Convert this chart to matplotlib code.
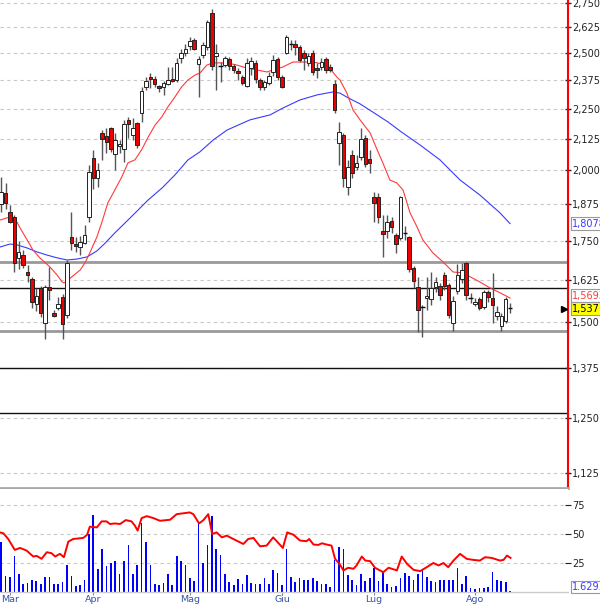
import matplotlib
matplotlib.use("Agg")
import matplotlib.pyplot as plt
import matplotlib.transforms as mtransforms
from matplotlib.patches import Rectangle
from matplotlib.ticker import FixedLocator, FuncFormatter, NullLocator

# ---------------- data ----------------
opens = [1.877, 1.916, 1.848, 1.831, 1.694, 1.704, 1.649, 1.627, 1.552, 1.600,
         1.497, 1.603, 1.525, 1.540, 1.573, 1.520, 1.762, 1.739, 1.729, 1.742,
         1.831, 2.048, 1.972, 2.148, 2.136, 2.168, 2.064, 2.096, 2.084, 2.202,
         2.140, 2.189, 2.231, 2.345, 2.390, 2.381, 2.349, 2.345, 2.358, 2.381,
         2.376, 2.477, 2.501, 2.534, 2.563, 2.449, 2.491, 2.529, 2.699, 2.487,
         2.440, 2.444, 2.473, 2.440, 2.416, 2.389, 2.349, 2.430, 2.454, 2.376,
         2.345, 2.363, 2.412, 2.473, 2.389, 2.501, 2.544, 2.544, 2.529, 2.501,
         2.454, 2.501, 2.430, 2.435, 2.473, 2.435, 2.358, 2.108, 2.140, 1.938,
         2.060, 2.013, 2.052, 2.128, 2.044, 1.902, 1.902, 1.783, 1.783, 1.817,
         1.769, 1.759, 1.776, 1.762, 1.661, 1.603, 1.540, 1.570, 1.567, 1.603,
         1.606, 1.640, 1.609, 1.497, 1.591, 1.627, 1.677, 1.570, 1.552, 1.567,
         1.543, 1.588, 1.570, 1.517, 1.489, 1.502, 1.540]
closes = [1.920, 1.880, 1.813, 1.677, 1.713, 1.671, 1.640, 1.558, 1.576, 1.525,
          1.603, 1.594, 1.517, 1.552, 1.494, 1.677, 1.742, 1.732, 1.745, 1.769,
          1.994, 1.972, 2.002, 2.124, 2.112, 2.084, 2.120, 2.104, 2.185, 2.185,
          2.168, 2.100, 2.327, 2.372, 2.381, 2.358, 2.340, 2.363, 2.376, 2.372,
          2.454, 2.501, 2.520, 2.558, 2.520, 2.473, 2.539, 2.652, 2.440, 2.501,
          2.435, 2.477, 2.440, 2.421, 2.407, 2.362, 2.454, 2.463, 2.381, 2.345,
          2.367, 2.394, 2.468, 2.389, 2.345, 2.578, 2.539, 2.529, 2.468, 2.477,
          2.487, 2.412, 2.421, 2.459, 2.421, 2.421, 2.244, 2.152, 1.972, 2.013,
          1.991, 2.029, 2.124, 2.025, 2.029, 1.880, 1.831, 1.773, 1.813, 1.796,
          1.739, 1.902, 1.773, 1.658, 1.621, 1.534, 1.543, 1.576, 1.600, 1.618,
          1.579, 1.606, 1.520, 1.561, 1.640, 1.655, 1.579, 1.571, 1.558, 1.540,
          1.588, 1.573, 1.549, 1.528, 1.517, 1.567, 1.537]
highs = [1.975, 1.953, 1.873, 1.838, 1.749, 1.720, 1.671, 1.633, 1.600, 1.606,
         1.609, 1.665, 1.534, 1.573, 1.582, 1.687, 1.848, 1.762, 1.766, 1.803,
         2.021, 2.080, 2.029, 2.160, 2.168, 2.172, 2.148, 2.120, 2.202, 2.214,
         2.210, 2.193, 2.345, 2.390, 2.408, 2.394, 2.354, 2.372, 2.435, 2.435,
         2.477, 2.520, 2.544, 2.578, 2.573, 2.487, 2.554, 2.663, 2.719, 2.544,
         2.459, 2.487, 2.482, 2.449, 2.430, 2.398, 2.477, 2.482, 2.468, 2.385,
         2.376, 2.412, 2.491, 2.482, 2.398, 2.588, 2.563, 2.563, 2.539, 2.515,
         2.501, 2.515, 2.454, 2.477, 2.482, 2.449, 2.376, 2.193, 2.148, 2.040,
         2.080, 2.060, 2.168, 2.140, 2.080, 1.920, 1.916, 1.838, 1.838, 1.831,
         1.776, 1.905, 1.800, 1.766, 1.668, 1.633, 1.549, 1.633, 1.649, 1.633,
         1.615, 1.649, 1.615, 1.576, 1.674, 1.677, 1.680, 1.585, 1.570, 1.573,
         1.594, 1.594, 1.646, 1.546, 1.525, 1.573, 1.555]
lows = [1.848, 1.859, 1.810, 1.649, 1.658, 1.661, 1.618, 1.540, 1.531, 1.514,
        1.452, 1.564, 1.514, 1.534, 1.452, 1.511, 1.720, 1.713, 1.704, 1.739,
        1.813, 1.931, 1.938, 2.040, 2.068, 2.072, 2.002, 2.068, 2.032, 2.128,
        2.120, 2.088, 2.193, 2.331, 2.340, 2.345, 2.322, 2.309, 2.354, 2.367,
        2.367, 2.454, 2.487, 2.515, 2.515, 2.300, 2.477, 2.515, 2.421, 2.331,
        2.367, 2.435, 2.421, 2.407, 2.376, 2.354, 2.345, 2.398, 2.363, 2.331,
        2.331, 2.354, 2.394, 2.376, 2.340, 2.496, 2.515, 2.491, 2.459, 2.421,
        2.440, 2.398, 2.385, 2.421, 2.407, 2.412, 2.231, 2.021, 1.938, 1.909,
        1.972, 2.002, 2.040, 2.013, 1.991, 1.813, 1.810, 1.697, 1.759, 1.776,
        1.710, 1.752, 1.752, 1.649, 1.600, 1.471, 1.457, 1.534, 1.549, 1.588,
        1.564, 1.594, 1.511, 1.474, 1.582, 1.615, 1.564, 1.555, 1.546, 1.534,
        1.537, 1.558, 1.497, 1.505, 1.474, 1.497, 1.525]
volumes = [42.9, 13.7, 12.6, 31.4, 15.7, 7.1, 7.7, 10.0, 9.4, 7.1,
           12.9, 12.6, 7.1, 7.1, 8.3, 22.9, 13.7, 4.9, 5.7, 10.0,
           50.0, 66.6, 20.0, 37.1, 22.0, 25.4, 27.1, 15.7, 27.1, 40.6,
           15.7, 23.4, 59.1, 42.9, 23.4, 7.1, 5.7, 8.0, 15.1, 6.3,
           31.4, 26.6, 23.4, 12.3, 9.4, 59.1, 25.1, 40.9, 65.4, 37.1,
           32.3, 15.7, 8.6, 6.3, 10.9, 6.9, 14.3, 7.7, 6.9, 6.9,
           11.7, 6.6, 19.1, 16.3, 6.3, 37.1, 12.9, 8.3, 12.0, 10.6,
           10.6, 11.7, 9.4, 7.1, 6.6, 4.3, 27.7, 39.1, 37.1, 14.6,
           10.6, 5.7, 15.7, 9.4, 12.3, 20.9, 9.4, 17.1, 6.6, 4.3,
           4.9, 12.0, 16.3, 13.4, 10.0, 15.7, 18.6, 12.9, 9.4, 8.3,
           10.6, 10.6, 10.0, 10.6, 20.9, 7.1, 14.0, 3.7, 2.6, 3.4,
           3.7, 4.3, 17.4, 10.0, 9.4, 8.6, 0.9]

ma_fast_idx = [-0.27, 2.0, 3.1, 4.3, 5.9, 7.2, 8.8, 11.1, 12.7, 13.9, 14.3, 15.0, 16.1,
               18.0, 19.1, 20.2, 21.8, 22.9, 24.3, 25.9, 27.5, 28.9, 30.5, 32.0, 33.5,
               35.1, 36.6, 38.0, 39.6, 41.1, 42.6, 44.2, 45.3, 46.9, 48.3, 51.5, 53.7,
               56.0, 58.3, 60.6, 61.9, 64.2, 66.5, 71.1, 74.3, 76.5, 77.2, 78.8, 80.2,
               81.8, 84.1, 85.7, 87.0, 88.6, 90.2, 91.6, 93.2, 94.8, 96.1, 98.4, 100.7,
               103.0, 105.3, 106.9, 109.1, 111.4, 113.7, 116.0]
ma_fast_val = [1.820, 1.831, 1.827, 1.793, 1.753, 1.720, 1.694, 1.665, 1.640, 1.618, 1.615,
               1.621, 1.634, 1.655, 1.678, 1.710, 1.762, 1.810, 1.880, 1.927, 1.976, 2.029,
               2.041, 2.080, 2.131, 2.181, 2.214, 2.257, 2.300, 2.344, 2.376, 2.398, 2.407,
               2.444, 2.454, 2.454, 2.444, 2.430, 2.421, 2.412, 2.421, 2.435, 2.458, 2.458,
               2.444, 2.389, 2.376, 2.317, 2.244, 2.202, 2.148, 2.080, 2.029, 1.964, 1.953,
               1.927, 1.845, 1.796, 1.753, 1.710, 1.681, 1.649, 1.646, 1.634, 1.618, 1.600,
               1.585, 1.5693]
ma_slow_idx = [-0.27, 2.0, 3.6, 5.9, 8.2, 10.4, 12.7, 15.0, 17.3, 19.6, 21.8, 23.7, 25.9,
               28.9, 31.2, 33.5, 36.7, 39.6, 42.6, 45.3, 48.3, 51.5, 56.7, 61.3, 64.2,
               68.1, 72.0, 75.6, 77.2, 79.1, 81.8, 84.7, 88.2, 90.9, 95.5, 100.0, 104.6,
               109.1, 113.7, 116.0]
ma_slow_val = [1.729, 1.739, 1.736, 1.726, 1.713, 1.703, 1.694, 1.687, 1.690, 1.697, 1.716,
               1.742, 1.776, 1.820, 1.855, 1.891, 1.935, 1.983, 2.041, 2.072, 2.119, 2.160,
               2.202, 2.223, 2.252, 2.287, 2.309, 2.322, 2.317, 2.296, 2.270, 2.235, 2.193,
               2.156, 2.099, 2.041, 1.964, 1.909, 1.845, 1.8078]
osc_idx = [-0.3, 0.5, 1.6, 3.1, 4.3, 5.8, 7.3, 8.1, 9.2, 10.4, 11.5, 12.3, 13.4, 14.3,
           15.3, 16.4, 18.7, 19.6, 20.2, 21.8, 22.9, 24.0, 24.8, 25.9, 27.1, 28.4, 29.7,
           30.5, 31.1, 32.0, 33.2, 34.7, 36.2, 38.5, 40.0, 43.0, 43.8, 45.1, 46.1, 47.2,
           48.1, 49.1, 50.3, 51.4, 52.9, 55.2, 56.3, 57.5, 59.0, 60.5, 62.0, 64.2, 65.2,
           66.6, 68.1, 69.6, 70.2, 71.2, 72.3, 73.1, 74.2, 75.3, 76.1, 77.1, 78.0, 79.1,
           80.3, 81.0, 82.2, 83.0, 84.1, 85.2, 87.1, 88.3, 90.2, 91.3, 92.5, 94.0, 95.5,
           97.0, 98.5, 99.7, 100.8, 101.9, 103.1, 104.6, 106.1, 107.6, 109.1, 110.3,
           111.8, 113.7, 114.5, 115.3, 116.1]
osc_val = [51.4, 50.6, 45.7, 36.3, 38.0, 35.7, 30.6, 31.1, 28.6, 34.3, 33.4, 30.6, 32.9,
           30.0, 43.4, 45.7, 46.6, 49.4, 56.3, 55.7, 60.9, 60.9, 58.6, 59.1, 58.6, 62.0,
           60.9, 57.1, 52.9, 63.7, 65.4, 63.7, 61.4, 62.3, 67.1, 68.6, 67.1, 59.1, 62.0,
           67.1, 50.0, 51.4, 47.1, 48.6, 45.7, 41.4, 45.7, 46.6, 39.4, 40.0, 47.1, 38.0,
           51.4, 49.4, 44.4, 43.8, 45.7, 40.9, 40.6, 42.0, 40.9, 40.0, 28.6, 24.3, 18.6,
           20.9, 20.0, 22.9, 30.6, 27.1, 26.6, 20.9, 17.1, 20.9, 18.6, 30.6, 24.3, 19.1,
           18.0, 21.4, 25.0, 22.9, 25.0, 21.4, 27.1, 32.9, 28.6, 27.7, 27.1, 30.0, 29.4,
           27.1, 27.7, 31.4, 29.4]

month_labels = ["Mar", "Apr", "Mag", "Giu", "Lug", "Ago"]
month_pos = [2, 21, 43, 64, 85, 108]
price_ticks = [1.125, 1.250, 1.375, 1.500, 1.625, 1.750, 1.875, 2.000,
               2.125, 2.250, 2.375, 2.500, 2.625, 2.750]
vol_ticks = [25, 50, 75]
gray_levels = [1.680, 1.475]
black_levels = [1.600, 1.375, 1.260]
label_slow = "1,8078"
label_fast = "1,5693"
label_last = "1,537"
label_vol = "1.629."
vol_label_level = 4.3

# ---------------- figure ----------------
W, H = 600, 606
fig = plt.figure(figsize=(W / 100, H / 100), dpi=100)
fig.patch.set_facecolor("white")
plt.rcParams["font.family"] = ["DejaVu Sans"]

ax = fig.add_axes([0, 1 - 488 / H, 568 / W, 488 / H])
axv = fig.add_axes([0, 1 - 592 / H, 568 / W, (592 - 489) / H])

xlim = (-0.27, 129.2)
for a in (ax, axv):
    a.set_xlim(*xlim)
    a.set_facecolor("white")

# main price panel
ax.set_yscale("log")
ax.set_ylim(1.0935, 2.7657)
ax.yaxis.set_major_locator(FixedLocator(price_ticks))
ax.yaxis.set_minor_locator(NullLocator())
ax.yaxis.set_major_formatter(FuncFormatter(lambda v, p: f"{v:.3f}".replace(".", ",")))
ax.yaxis.tick_right()
ax.tick_params(axis="y", which="major", direction="inout", length=4, width=1,
               color="#222222", labelsize=7, pad=1, labelcolor="#222222")
ax.set_xticks([])
for s in ("left", "top"):
    ax.spines[s].set_visible(False)
ax.spines["right"].set_color("#ff0000")
ax.spines["right"].set_linewidth(1.5)
ax.spines["bottom"].set_color("#aaaaaa")
ax.spines["bottom"].set_linewidth(2)

for t in price_ticks:
    ax.axhline(t, color="#c8c8c8", lw=0.8, ls=(0, (3, 3)), zorder=0.5)
for lv in gray_levels:
    ax.axhline(lv, color="#999999", lw=2, zorder=1)
for lv in black_levels:
    ax.axhline(lv, color="#111111", lw=1, zorder=1)

ax.plot(ma_slow_idx, ma_slow_val, color="#3a3aff", lw=0.8, zorder=2)
ax.plot(ma_fast_idx, ma_fast_val, color="#ff3a3a", lw=0.8, zorder=2)

bw = 0.8
for i, (o, h, l, c) in enumerate(zip(opens, highs, lows, closes)):
    ax.vlines(i, l, h, color="#555555", lw=1.0, zorder=3)
    lo, hi = min(o, c), max(o, c)
    if hi / lo < 1.003:
        ax.hlines((o + c) / 2, i - bw / 2 - 0.1, i + bw / 2 + 0.1, color="#111111", lw=1, zorder=4)
    else:
        fc = "#ee0000" if c < o else "white"
        ax.add_patch(Rectangle((i - bw / 2, lo), bw, hi - lo, facecolor=fc,
                               edgecolor="#222222", lw=0.7, zorder=4))

trans = mtransforms.blended_transform_factory(ax.transAxes, ax.transData)
xt = 1 + 4 / 568
ax.text(xt, ma_slow_val[-1], label_slow, transform=trans, ha="left", va="center",
        fontsize=7, color="#3a3aff", clip_on=False,
        bbox=dict(boxstyle="square,pad=0.15", fc="white", ec="#999999", lw=0.8))
ax.text(xt, ma_fast_val[-1] * 1.004, label_fast, transform=trans, ha="left", va="center",
        fontsize=7, color="#ff3a3a", clip_on=False,
        bbox=dict(boxstyle="square,pad=0.15", fc="white", ec="#999999", lw=0.8))
ax.text(xt, closes[-1], label_last, transform=trans, ha="left", va="center",
        fontsize=7, color="black", clip_on=False,
        bbox=dict(boxstyle="square,pad=0.15", fc="#ffff00", ec="#999999", lw=0.8))
ax.plot([1 - 4 / 568], [closes[-1]], marker=">", color="black", ms=4,
        transform=trans, clip_on=False, zorder=6)

# volume panel
axv.set_ylim(0, 88.8)
axv.bar(range(len(volumes)), volumes, width=0.38, color="#0000ff", zorder=2)
axv.plot(osc_idx, osc_val, color="#ff0000", lw=1.4, zorder=3)
for t in vol_ticks:
    axv.axhline(t, color="#c8c8c8", lw=0.8, ls=(0, (3, 3)), zorder=0.5)
axv.yaxis.tick_right()
axv.set_yticks(vol_ticks)
axv.tick_params(axis="y", direction="inout", length=4, color="#222222",
                labelsize=7, pad=1, labelcolor="#222222")
axv.set_xticks(month_pos)
axv.set_xticklabels(month_labels)
axv.tick_params(axis="x", direction="out", length=2.5, color="#888888",
                labelsize=6.8, pad=0, labelcolor="#3355aa")
for s in ("left", "top", "right"):
    axv.spines[s].set_visible(False)
axv.spines["bottom"].set_color("#cccccc")
axv.spines["bottom"].set_linewidth(1)
transv = mtransforms.blended_transform_factory(axv.transAxes, axv.transData)
axv.text(xt, vol_label_level, label_vol, transform=transv, ha="left", va="center",
         fontsize=7, color="#3a3aff", clip_on=False,
         bbox=dict(boxstyle="square,pad=0.15", fc="white", ec="#999999", lw=0.8))

fig.savefig("out.png", dpi=100, facecolor="white")
